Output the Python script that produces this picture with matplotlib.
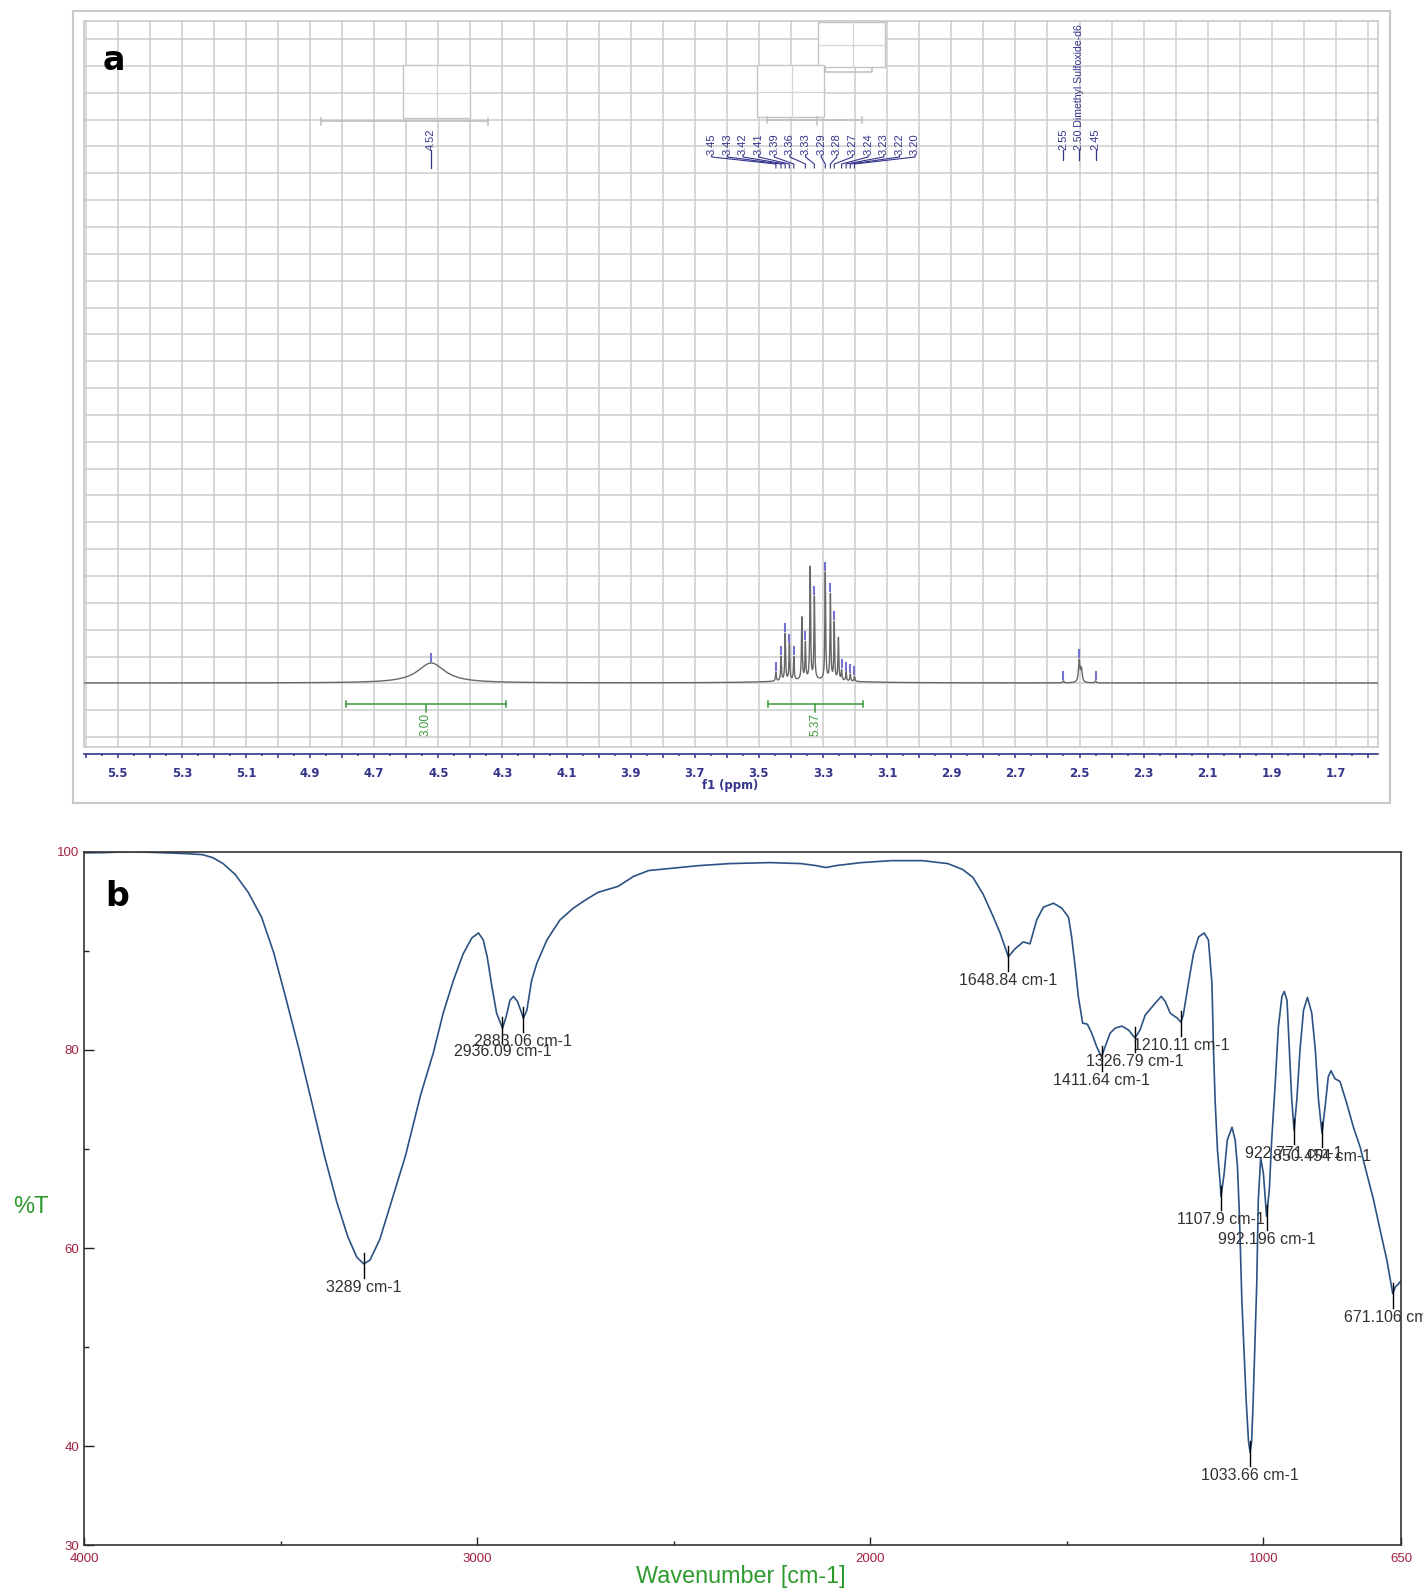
import numpy as np
import matplotlib
matplotlib.use("Agg")
import matplotlib.pyplot as plt
from matplotlib.patches import Rectangle

plt.rcParams['font.family'] = ['Liberation Sans', 'DejaVu Sans']

# ---------------- panel a : 1H NMR (DMSO-d6), peak list ----------------
shifts = [4.522, 3.447, 3.431, 3.418, 3.405, 3.391, 3.366, 3.355, 3.340, 3.327,
          3.293, 3.277, 3.265, 3.252, 3.242, 3.228, 3.215, 3.202,
          2.550, 2.501, 2.494, 2.450, 3.330]
heights = [20, 9, 24, 47, 36, 23, 62, 36, 112, 82,
           107, 85, 57, 42, 10, 9, 7, 5,
           2, 22, 13, 2, 3]
widths = [0.052] + [0.0015] * 17 + [0.002, 0.0028, 0.0028, 0.002, 0.12]

single_label = ["4.52"]
single_pos = [4.522]
mult_labels = ["3.45", "3.43", "3.42", "3.41", "3.39", "3.36", "3.33",
               "3.29", "3.28", "3.27", "3.24", "3.23", "3.22", "3.20"]
mult_pos = [3.447, 3.431, 3.418, 3.405, 3.391, 3.355, 3.327,
            3.293, 3.277, 3.265, 3.242, 3.228, 3.215, 3.202]
dmso_labels = ["2.55", "2.50 Dimethyl Sulfoxide-d6", "2.45"]
dmso_pos = [2.550, 2.501, 2.450]

integ_from = [4.789, 3.473]
integ_to = [4.290, 3.176]
integ_mid = [4.539, 3.324]
integ_val = ["3.00", "5.37"]

ppm_ticks = [round(1.6 + 0.1 * i, 1) for i in range(41)]

# ---------------- panel b : FTIR ----------------
wavenumber = [4000, 3957, 3879, 3802, 3737, 3699, 3673, 3647, 3616, 3583, 3549, 3518, 3487,
              3454, 3420, 3389, 3358, 3330, 3307, 3289, 3273, 3248, 3214, 3183, 3144, 3112,
              3087, 3061, 3036, 3014, 2997, 2985, 2975, 2963, 2951, 2936, 2927, 2917, 2908,
              2898, 2887, 2883, 2874, 2862, 2849, 2823, 2790, 2756, 2726, 2693, 2642, 2603,
              2564, 2512, 2435, 2358, 2255, 2177, 2139, 2113, 2087, 2023, 1945, 1868, 1803,
              1765, 1739, 1713, 1687, 1670, 1649, 1632, 1611, 1594, 1577, 1560, 1534, 1513,
              1496, 1488, 1479, 1471, 1460, 1448, 1437, 1424, 1412, 1403, 1390, 1377, 1360,
              1343, 1327, 1314, 1301, 1280, 1260, 1250, 1237, 1219, 1210, 1204, 1191, 1178,
              1165, 1151, 1140, 1131, 1127, 1123, 1117, 1110, 1108, 1100, 1092, 1080, 1072,
              1066, 1061, 1055, 1044, 1038, 1034, 1030, 1026, 1017, 1013, 1007, 1000, 992,
              985, 979, 970, 962, 953, 947, 940, 934, 928, 922, 915, 907, 898, 888, 877, 868,
              860, 851, 843, 835, 828, 818, 805, 788, 771, 754, 737, 720, 703, 686, 671, 664,
              656, 650]
transmittance = [99.9, 99.9, 100.0, 99.9, 99.8, 99.7, 99.4, 98.8, 97.7, 95.9, 93.4, 89.8, 85.2,
                 80.1, 74.5, 69.3, 64.7, 61.2, 59.1, 58.4, 58.8, 60.9, 65.3, 69.3, 75.5, 79.7,
                 83.7, 87.0, 89.7, 91.3, 91.8, 91.1, 89.4, 86.4, 83.7, 82.2, 83.3, 85.0, 85.4,
                 84.9, 83.7, 83.2, 84.0, 87.0, 88.7, 91.1, 93.1, 94.3, 95.1, 95.9, 96.5, 97.5,
                 98.1, 98.3, 98.6, 98.8, 98.9, 98.8, 98.6, 98.4, 98.6, 98.9, 99.1, 99.1, 98.8,
                 98.2, 97.4, 95.7, 93.4, 91.8, 89.4, 90.2, 90.9, 90.7, 93.1, 94.4, 94.8, 94.3,
                 93.4, 91.4, 88.4, 85.4, 82.7, 82.6, 81.7, 80.3, 79.3, 80.3, 81.7, 82.2, 82.4,
                 82.0, 81.2, 82.0, 83.5, 84.5, 85.4, 84.9, 83.7, 83.2, 82.8, 83.5, 86.7, 89.7,
                 91.4, 91.8, 91.1, 86.7, 80.0, 75.0, 69.9, 66.5, 65.2, 67.5, 70.9, 72.2, 70.9,
                 68.2, 63.2, 54.8, 44.7, 40.5, 39.4, 40.5, 44.7, 56.4, 64.9, 69.1, 67.5, 63.2,
                 65.9, 70.9, 76.6, 82.3, 85.4, 85.9, 85.0, 80.0, 75.0, 71.9, 75.0, 80.0, 84.0,
                 85.3, 83.7, 80.0, 75.0, 71.6, 74.3, 77.3, 77.9, 77.1, 76.8, 74.6, 72.2, 70.2,
                 67.5, 64.9, 61.8, 58.8, 55.4, 56.1, 56.4, 56.7]

ir_peak_wn = [3289, 2936.09, 2883.06, 1648.84, 1411.64, 1326.79, 1210.11, 1107.9,
              1033.66, 992.196, 922.771, 850.454, 671.106]
ir_peak_T = [58.4, 82.2, 83.2, 89.4, 79.3, 81.2, 82.8, 65.2, 39.4, 63.2, 71.9, 71.6, 55.4]
ir_peak_text = ["3289 cm-1", "2936.09 cm-1", "2883.06 cm-1", "1648.84 cm-1", "1411.64 cm-1",
                "1326.79 cm-1", "1210.11 cm-1", "1107.9 cm-1", "1033.66 cm-1",
                "992.196 cm-1", "922.771 cm-1", "850.454 cm-1", "671.106 cm-1"]

# ---------------- figure ----------------
W, H = 1423, 1589
fig = plt.figure(figsize=(W / 100, H / 100), dpi=100)


def box(l, t, r, b):
    return [l / W, 1 - b / H, (r - l) / W, (b - t) / H]


def ppm_of(px):
    return 5.5 - (px - 117.7) / 320.6


def y_of(py):
    return 683 - py


navy = '#34348c'
mark = '#7474d0'
green = '#3c9a3c'
gridc = '#cdcdcd'
lab_font = 'Liberation Sans'

# outer frame of panel a
fig.add_artist(Rectangle((73 / W, 1 - 803 / H), (1390 - 73) / W, (803 - 11) / H,
                         transform=fig.transFigure, fill=False, ec='#c8c8c8', lw=1.5))

ax = fig.add_axes(box(84, 21, 1378, 747))
ppm = np.linspace(5.61, 1.56, 34000)


def curve(x):
    x = np.asarray(x, dtype=float)
    out = np.zeros_like(x)
    for c, h, w in zip(shifts, heights, widths):
        out += h * w ** 2 / ((x - c) ** 2 + w ** 2)
    return out


ax.plot(ppm, curve(ppm), color='#686868', lw=1.0, zorder=3)
ax.set_xlim(5.605, 1.569)
ax.set_ylim(-64, 662)

ax.tick_params(axis='x', which='major', direction='out', length=3.2, width=1.1,
               color=navy, pad=6, labelcolor=navy, labelsize=8.4)
ax.tick_params(axis='x', which='minor', direction='out', length=1.6, width=1.1, color=navy)
tick_lbls = [f"{v:.1f}" if round(v * 10) % 2 == 1 else "" for v in ppm_ticks]
ax.set_xticks(ppm_ticks, labels=tick_lbls)
ax.set_xticks([round(v + 0.05, 2) for v in ppm_ticks[:-1]], minor=True)
ax.set_yticks(644 - 26.85 * np.arange(27))
ax.tick_params(axis='y', length=0, labelleft=False)
ax.grid(True, which='major', color=gridc, lw=1.1)
ax.set_axisbelow(True)
for s in ['left', 'right', 'top']:
    ax.spines[s].set_visible(False)
ax.spines['bottom'].set_position(('outward', 5))
ax.spines['bottom'].set_color(navy)
ax.spines['bottom'].set_linewidth(1.2)
ax.add_patch(Rectangle((0, 0), 1, 1, transform=ax.transAxes, fill=False,
                       ec='#c8c8c8', lw=1.2, clip_on=False, zorder=1))

# multiplet boxes and brackets (light grey)
boxes = [(403.3, 65, 470, 118, 436.7, 92.7),
         (818, 22, 885, 67, 853, 45),
         (757.3, 65, 824, 116.7, 791.7, 91.7)]
for l, t, r, b, vx, hy in boxes:
    ax.add_patch(Rectangle((ppm_of(r), y_of(b)), ppm_of(l) - ppm_of(r), y_of(t) - y_of(b),
                           fc='white', ec='#c4c4c4', lw=1.0, zorder=1))
    ax.plot([ppm_of(l), ppm_of(r)], [y_of(hy)] * 2, color='#d4d4d4', lw=0.9, zorder=1.5)
    ax.plot([ppm_of(vx)] * 2, [y_of(t), y_of(b)], color='#d4d4d4', lw=0.9, zorder=1.5)
brk = '#bdbdbd'
ax.plot([ppm_of(320.7), ppm_of(488.3)], [y_of(121)] * 2, color=brk, lw=1.1)
for px in (320.7, 488.3):
    ax.plot([ppm_of(px)] * 2, [y_of(118), y_of(125)], color=brk, lw=1.1)
ax.plot([ppm_of(825), ppm_of(825), ppm_of(871.7), ppm_of(871.7)],
        [y_of(66.7), y_of(71.7), y_of(71.7), y_of(68)], color=brk, lw=1.1)
ax.plot([ppm_of(766.7), ppm_of(861.7)], [y_of(120)] * 2, color=brk, lw=1.1)
for px, a, b in ((766.7, 117, 123), (816.7, 116.7, 125), (861.7, 117, 123)):
    ax.plot([ppm_of(px)] * 2, [y_of(a), y_of(b)], color=brk, lw=1.1)

# peak markers
for p in single_pos + mult_pos + dmso_pos:
    yp = float(curve([p])[0])
    ax.plot([p, p], [yp + 2, yp + 9], color=mark, lw=1.5, zorder=4)

# peak labels
for p, t in zip(single_pos, single_label):
    ax.text(p, y_of(150), t, rotation=90, ha='center', va='bottom', color=navy,
            fontsize=8, family=lab_font)
    ax.plot([p, p], [y_of(150), y_of(168)], color=navy, lw=0.9)
for p, t in zip(dmso_pos, dmso_labels):
    ax.text(p, y_of(150), t, rotation=90, ha='center', va='bottom', color=navy,
            fontsize=7.6 if len(t) > 5 else 8, family=lab_font)
    ax.plot([p, p], [y_of(150), y_of(160)], color=navy, lw=0.9)
for k, (p, t) in enumerate(zip(mult_pos, mult_labels)):
    lx = ppm_of(711.7 + 15.64 * k)
    ax.text(lx, y_of(155), t, rotation=90, ha='center', va='bottom', color=navy,
            fontsize=8, family=lab_font)
    ax.plot([lx, lx, p, p], [y_of(155), y_of(157), y_of(164), y_of(168)],
            color=navy, lw=0.8)

# integrals
yb = y_of(704.3)
for a, b, m, t in zip(integ_from, integ_to, integ_mid, integ_val):
    ax.plot([a, b], [yb, yb], color=green, lw=1.1)
    ax.plot([a, a], [yb - 3, yb + 3], color=green, lw=1.1)
    ax.plot([b, b], [yb - 3, yb + 3], color=green, lw=1.1)
    ax.plot([m, m], [yb, yb - 8], color=green, lw=1.1)
    ax.text(m, yb - 9, t, rotation=90, ha='center', va='top', color=green,
            fontsize=8.5, family=lab_font)

fig.text(730 / W, 1 - 786 / H, "f1 (ppm)", ha='center', va='center', color=navy,
         fontsize=8.4, fontweight='bold', family='DejaVu Sans')
fig.text(113.5 / W, 1 - 61 / H, "a", ha='center', va='center', fontsize=24,
         fontweight='bold', family='DejaVu Sans')

# ---------------- panel b ----------------
red = '#a3213f'
bx = fig.add_axes(box(84.3, 851.7, 1401, 1545.4))
bx.plot(wavenumber, transmittance, color='#2b5282', lw=1.2)
bx.set_xlim(4000, 650)
bx.set_ylim(30, 100)
bx.set_xticks([4000, 3000, 2000, 1000, 650])
bx.set_xticks([3500, 2500, 1500], minor=True)
bx.set_yticks([30, 40, 60, 80, 100])
bx.set_yticks([50, 70, 90], minor=True)
bx.tick_params(which='both', direction='in', color='#222222', width=1.0,
               labelsize=9.5, labelcolor=red)
bx.tick_params(axis='x', which='major', length=5.8, pad=5.5)
bx.tick_params(axis='x', which='minor', length=2.9)
bx.tick_params(axis='y', which='major', length=7.2, pad=3.8)
bx.tick_params(axis='y', which='minor', length=3.6)
for s in bx.spines.values():
    s.set_color('#333333')
    s.set_linewidth(1.2)

for wn, tv, txt in zip(ir_peak_wn, ir_peak_T, ir_peak_text):
    bx.plot([wn, wn], [tv + 1.1, tv - 1.4], color='black', lw=1.0, clip_on=False)
    bx.text(wn, tv - 1.6, txt, ha='center', va='top', fontsize=11.5, color='#353030',
            clip_on=False)

fig.text(30.4 / W, 1 - 1207 / H, "%T", ha='center', va='center', color='#2e9a2e',
         fontsize=17)
fig.text(741 / W, 1 - 1577 / H, "Wavenumber [cm-1]", ha='center', va='center',
         color='#2e9a2e', fontsize=16.8)
fig.text(117.5 / W, 1 - 896 / H, "b", ha='center', va='center', fontsize=24,
         fontweight='bold', family='DejaVu Sans')

# bold ppm tick labels
fig.canvas.draw()
for lab in ax.get_xticklabels():
    lab.set_fontweight('bold')
    lab.set_family('DejaVu Sans')
    lab.set_color(navy)

fig.savefig("out.png", dpi=100)
